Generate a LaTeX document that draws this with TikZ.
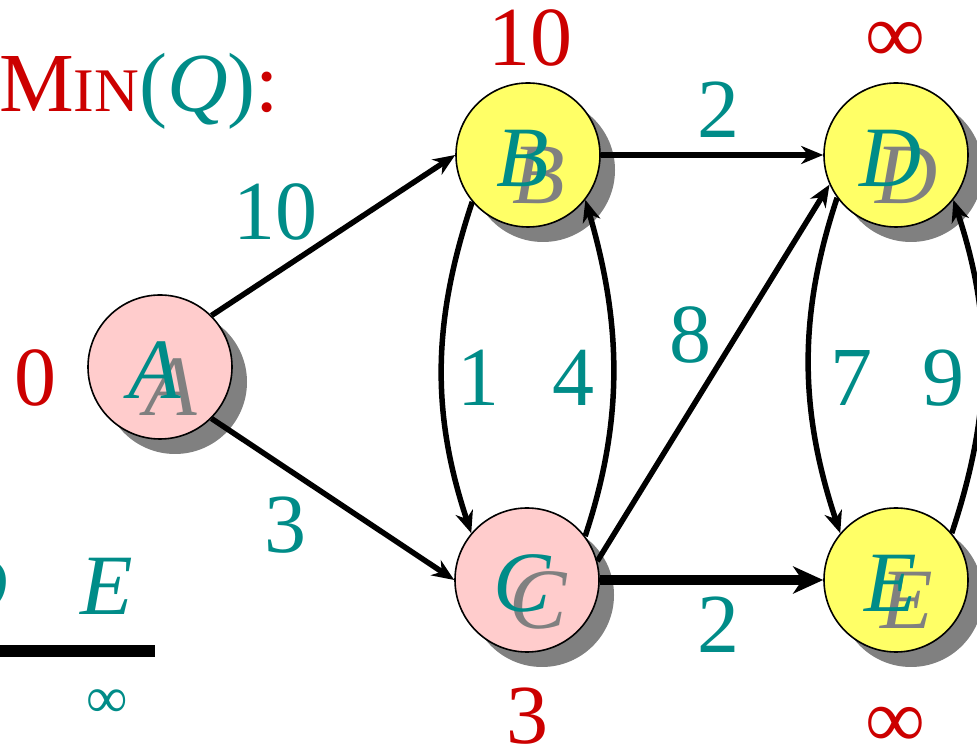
\documentclass[tikz,border=0pt]{standalone}
\usepackage{fontspec}
\setmainfont{Liberation Serif}
\usepackage{tikz}
\usetikzlibrary{arrows.meta,positioning}
\definecolor{keyred}{HTML}{CC0000}
\definecolor{labteal}{HTML}{008C88}
\definecolor{vpink}{HTML}{FFCCCC}
\definecolor{vyellow}{HTML}{FFFF66}
\definecolor{vshade}{HTML}{808080}

\begin{document}
\begin{tikzpicture}[
        x=1pt, y=1pt,
        every node/.style={font=\fontsize{84}{90}\selectfont, inner sep=0pt},
        vtx/.style={circle, draw=black, line width=1.6pt, minimum size=144pt},
        vname/.style={text=labteal, font=\fontsize{86}{90}\selectfont\itshape},
        vghost/.style={text=vshade, font=\fontsize{86}{90}\selectfont\itshape},
        wt/.style={text=labteal},
        key/.style={text=keyred},
        edge/.style={draw=black, line width=5.5pt,
            -{Stealth[length=22pt,width=18pt,inset=7pt]}},
        hot/.style={draw=black, line width=10.5pt,
            -{Stealth[length=30pt,width=27pt,inset=9pt]}}
    ]
    \useasboundingbox (0,0) rectangle (977,754);
    \clip (0,0) rectangle (977,754);

    % ================= antrian Q =========================
    \node[key, anchor=base west] (minq) at (-1,642)
    {M{\fontsize{62}{66}\selectfont IN}\textcolor{labteal}{(\textit{Q})}:};
    \node[vname, anchor=east] (qD) at (8,168) {D};
    \node[vname] (qE) at (107,168) {E};
    \draw[line width=12pt] (-5,103) -- (155,103);
    \node[wt, font=\fontsize{58}{62}\selectfont] (qdE) at (107,50) {∞};

    % ================= simpul + bayangan =========================
    \foreach \n/\x/\y/\c in {A/160/387/vpink, B/528/599/vyellow,
            C/527/174/vpink, D/896/599/vyellow, E/896/174/vyellow}{
        \fill[vshade] (\x+15,\y-15) circle (72);
        \node[vtx, fill=\c] (\n) at (\x,\y) {};
        \node[vghost] (\n g) at (\x+11,\y-20) {\n};
        \node[vname] (\n t) at (\x-5,\y-3) {\n};
    }

    % ================= sisi =========================
    \draw[edge] (A.45) -- (B.180);
    \draw[edge] (A.315) -- (C.180);
    \draw[edge] (B) -- (D);
    \draw[hot] (C) -- (E);
    \draw[edge] (C.15) -- (D.204);
    \draw[edge] (B.220) .. controls +(-40,-120) and +(-40,120) .. (C.140);
    \draw[edge] (C.37) .. controls +(40,120) and +(35,-120) .. (B.322);
    \draw[edge] (D.216) .. controls +(-40,-120) and +(-40,120) .. (E.140);
    \draw[edge] (E.40) .. controls +(40,120) and +(40,-120) .. (D.322);

    % bobot
    \node[wt] (wAB) at (275,542) {10};
    \node[wt] (wAC) at (285,229) {3};
    \node[wt] (wBD) at (718,644) {2};
    \node[wt] (wCE) at (718,129) {2};
    \node[wt] (wCD) at (690,419) {8};
    \node[wt] (wBC) at (478,376) {1};
    \node[wt] (wCB) at (573,376) {4};
    \node[wt] (wDE) at (851,376) {7};
    \node[wt] (wED) at (943,376) {9};

    % jarak d[v]
    \node[key] (dA) at (35,376) {0};
    \node[key] (dB) at (530,716) {10};
    \node[key] (dC) at (527,38) {3};
    \node[key] (dD) at (895,712) {∞};
    \node[key] (dE) at (895,27) {∞};
\end{tikzpicture}
\end{document}
